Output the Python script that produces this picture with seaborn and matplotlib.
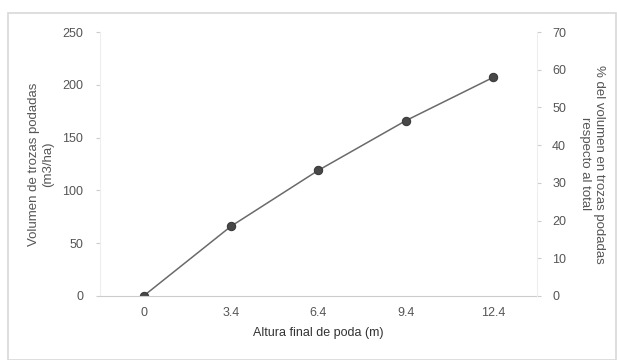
import pandas as pd
import numpy as np
import matplotlib.pyplot as plt
import seaborn as sns

altura = ["0", "3.4", "6.4", "9.4", "12.4"]
volumen = [0, 66, 119, 166, 207]

sns.set_style("white")
plt.rcParams['font.family'] = ['Liberation Sans', 'DejaVu Sans']
gris = "#555555"

df = pd.DataFrame({"Altura": altura, "Volumen": volumen})
df["pos"] = np.arange(len(altura))

fig = plt.figure(figsize=(6.17, 3.6), dpi=100)
fig.patches.append(plt.Rectangle((0.013, 0.0), 0.985, 0.965, transform=fig.transFigure,
                                 fill=False, edgecolor="#d8d8d8", linewidth=1.2))
ax = fig.add_axes([0.162, 0.178, 0.708, 0.733])

sns.lineplot(data=df, x="pos", y="Volumen", ax=ax, color="#6a6a6a", linewidth=1.1,
             marker="o", markersize=6, markerfacecolor="#484848", markeredgecolor="#383838")

ax.set_xlim(-0.5, 4.5)
ax.set_ylim(0, 250)
ax.set_xticks(df["pos"])
ax.set_xticklabels(altura)
ax.set_yticks(range(0, 251, 50))
for s in ["top", "right"]:
    ax.spines[s].set_visible(False)
ax.spines["left"].set_color("#eeeeee")
ax.spines["bottom"].set_color("#cccccc")
ax.tick_params(axis="both", colors="#cccccc", labelcolor=gris, labelsize=9, length=3)
ax.tick_params(axis="x", length=0, pad=8)
ax.tick_params(axis="y", pad=9)
ax.set_xlabel("Altura final de poda (m)", color="#333333", fontsize=9, labelpad=6)
ax.set_ylabel("Volumen de trozas podadas\n(m3/ha)", color=gris, fontsize=9.5, labelpad=6)

ax2 = ax.twinx()
ax2.set_ylim(0, 70)
ax2.set_yticks(range(0, 71, 10))
for s in ["top", "left", "bottom"]:
    ax2.spines[s].set_visible(False)
ax2.spines["right"].set_color("#eeeeee")
ax2.tick_params(axis="y", colors="#cccccc", labelcolor=gris, labelsize=9, length=3, pad=8)
ax2.set_ylabel("% del volumen en trozas podadas\nrespecto al total", color=gris,
               fontsize=9.5, rotation=270, labelpad=28)

fig.savefig("out.png", dpi=100)
